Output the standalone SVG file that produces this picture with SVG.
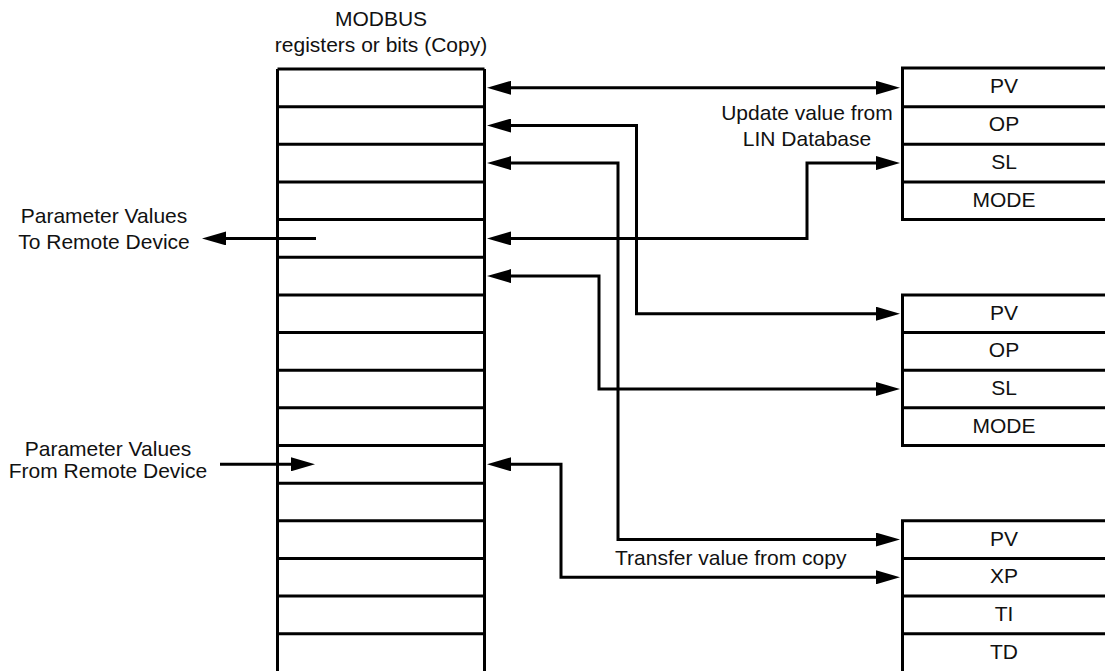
<svg xmlns="http://www.w3.org/2000/svg" width="1105" height="671" viewBox="0 0 1105 671">
<style>
  .ln { stroke: #000; stroke-width: 3; fill: none; }
  .cn { stroke: #000; stroke-width: 3; fill: none; }
  .bi { marker-start: url(#ah); marker-end: url(#ah); }
  .one { marker-end: url(#ah); }
  text { font-family: "Liberation Sans", Arial, sans-serif; font-size: 21px; fill: #111; }
  .c { text-anchor: middle; }
</style>
<defs>
  <marker id="ah" markerUnits="userSpaceOnUse" markerWidth="24" markerHeight="14" refX="14" refY="7" orient="auto-start-reverse" viewBox="0 0 24 14">
    <path d="M0,0 L24,7 L0,14 z" fill="#000"/>
  </marker>
</defs>
<rect width="1105" height="671" fill="#fff"/>

<g id="modbus-copy">
  <text class="c" x="381" y="26">MODBUS</text>
  <text class="c" x="381" y="52">registers or bits (Copy)</text>
  <path class="ln" d="M277.5,69 V671 M484.5,69 V671"/>
  <path class="ln" d="M277.5,69 H484.5 M277.5,106.65 H484.5 M277.5,144.3 H484.5 M277.5,181.95 H484.5 M277.5,219.6 H484.5 M277.5,257.25 H484.5 M277.5,294.9 H484.5 M277.5,332.55 H484.5 M277.5,370.2 H484.5 M277.5,407.85 H484.5 M277.5,445.5 H484.5 M277.5,483.15 H484.5 M277.5,520.8 H484.5 M277.5,558.45 H484.5 M277.5,596.1 H484.5 M277.5,633.75 H484.5"/>
</g>

<g id="block1">
  <path class="ln" d="M902.5,68 V219.6 M901,68 H1105 M901,106.65 H1105 M901,144.3 H1105 M901,181.95 H1105 M901,219.6 H1105"/>
  <text class="c" x="1004" y="93">PV</text>
  <text class="c" x="1004" y="131">OP</text>
  <text class="c" x="1004" y="169">SL</text>
  <text class="c" x="1004" y="206.5">MODE</text>
</g>

<g id="block2">
  <path class="ln" d="M902.5,294.9 V445.5 M901,294.9 H1105 M901,332.55 H1105 M901,370.2 H1105 M901,407.85 H1105 M901,445.5 H1105"/>
  <text class="c" x="1004" y="319.5">PV</text>
  <text class="c" x="1004" y="357">OP</text>
  <text class="c" x="1004" y="395">SL</text>
  <text class="c" x="1004" y="432.5">MODE</text>
</g>

<g id="block3">
  <path class="ln" d="M902.5,520.8 V671 M901,520.8 H1105 M901,558.45 H1105 M901,596.1 H1105 M901,633.75 H1105"/>
  <text class="c" x="1004" y="545.5">PV</text>
  <text class="c" x="1004" y="583">XP</text>
  <text class="c" x="1004" y="621">TI</text>
  <text class="c" x="1004" y="658.5">TD</text>
</g>

<g id="to-remote">
  <text class="c" x="104" y="223">Parameter Values</text>
  <text class="c" x="104" y="249">To Remote Device</text>
</g>
<g id="from-remote">
  <text class="c" x="108" y="456">Parameter Values</text>
  <text class="c" x="108" y="478">From Remote Device</text>
</g>

<g id="connectors">
  <path class="cn bi" d="M497,87.8 H890"/>
  <path class="cn bi" d="M497,125.5 H636.5 V313.7 H890"/>
  <path class="cn bi" d="M497,163.1 H618 V539.6 H890"/>
  <path class="cn bi" d="M497,238.4 H807 V163.1 H890"/>
  <path class="cn bi" d="M497,276.1 H599 V389 H890"/>
  <path class="cn bi" d="M497,464.3 H561 V577.3 H890"/>
  <path class="cn one" d="M316,238.4 H212"/>
  <path class="cn one" d="M220,464.3 H305"/>
  <text class="c" x="807" y="120">Update value from</text>
  <text class="c" x="807" y="146">LIN Database</text>
  <text x="615" y="565">Transfer value from copy</text>
</g>
</svg>
